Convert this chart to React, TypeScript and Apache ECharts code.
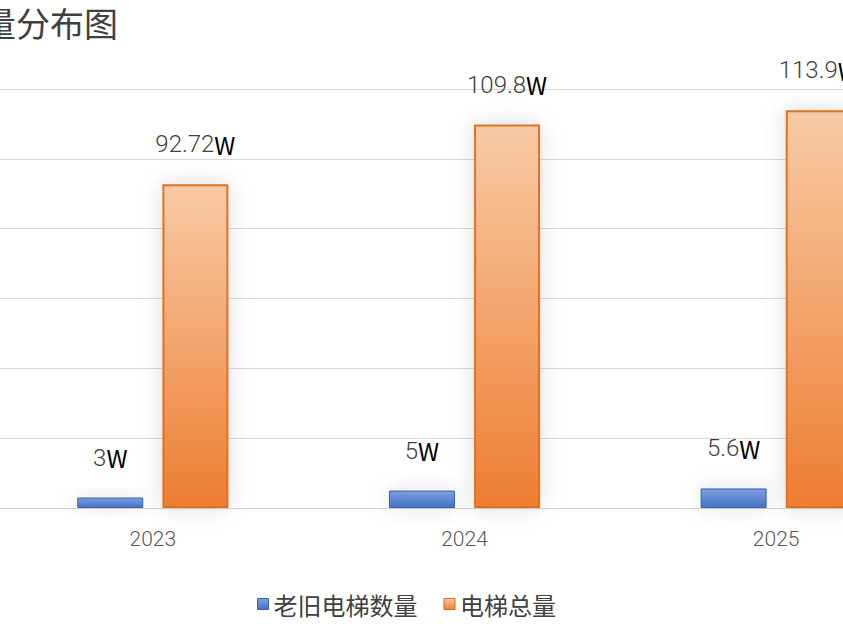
import React, { useEffect, useRef } from "react";
import * as echarts from "echarts";

const categories = ["2023", "2024", "2025"];
const oldElevators = [3, 5, 5.6];
const totalElevators = [92.72, 109.8, 113.9];
const oldLabels = ["3", "5", "5.6"];
const totalLabels = ["92.72", "109.8", "113.9"];
const seriesNames = ["老旧电梯数量", "电梯总量"];
const titleText = "量分布图";

const FONT = "'Noto Sans CJK SC', 'Noto Sans', sans-serif";
const LIGHT = "Roboto, 'Noto Sans', sans-serif";

export default function App() {
  const ref = useRef<HTMLDivElement>(null);
  useEffect(() => {
    if (!ref.current) return;
    const chart = echarts.init(ref.current, undefined, { renderer: "svg" });
    const labelRich = {
      n: { fontSize: 24, color: "#404040", fontFamily: LIGHT, fontWeight: 300 },
      w: { fontSize: 24, color: "#000000", fontFamily: FONT, fontWeight: 400 },
    };
    const orangeGrad = new echarts.graphic.LinearGradient(0, 0, 0, 1, [
      { offset: 0, color: "#F8CBA6" },
      { offset: 1, color: "#ED7D31" },
    ]);
    const blueGrad = new echarts.graphic.LinearGradient(0, 0, 0, 1, [
      { offset: 0, color: "#7E9FE0" },
      { offset: 1, color: "#4472C4" },
    ]);
    chart.setOption({
      animation: false,
      textStyle: { fontFamily: FONT },
      graphic: [
        {
          type: "text",
          left: -15,
          top: 5,
          style: { text: titleText, fontSize: 34, fill: "#404040", fontFamily: FONT },
        },
      ],
      legend: {
        left: 255,
        top: 587,
        itemWidth: 11,
        itemHeight: 11,
        itemGap: 26,
        icon: "rect",
        textStyle: { fontSize: 24, color: "#404040", fontFamily: FONT },
        data: [
          { name: seriesNames[0], itemStyle: { color: blueGrad, borderColor: "#3A62AC", borderWidth: 1 } },
          { name: seriesNames[1], itemStyle: { color: orangeGrad, borderColor: "#D96A20", borderWidth: 1 } },
        ],
      },
      grid: { left: 0, right: 0, top: 89, bottom: 124 },
      xAxis: {
        type: "category",
        data: categories,
        axisTick: { show: false },
        axisLine: { lineStyle: { color: "#D0D0D0", width: 1 } },
        axisLabel: { fontSize: 21, color: "#595959", margin: 20, fontFamily: LIGHT, fontWeight: 300 },
      },
      yAxis: {
        type: "value",
        min: 0,
        max: 120,
        interval: 20,
        axisLabel: { show: false },
        axisLine: { show: false },
        axisTick: { show: false },
        splitLine: { lineStyle: { color: "#D9D9D9", width: 1 } },
      },
      series: [
        {
          name: seriesNames[0],
          type: "bar",
          data: oldElevators,
          barWidth: 66,
          barGap: "29%",
          itemStyle: {
            color: blueGrad,
            borderColor: "#3A62AC",
            borderWidth: 1,
            shadowBlur: 22,
            shadowColor: "rgba(0,0,0,0.12)",
          },
          label: {
            show: true,
            position: "top",
            distance: 28,
            formatter: (p: any) => `{n|${oldLabels[p.dataIndex]}}{w|W}`,
            rich: labelRich,
          },
        },
        {
          name: seriesNames[1],
          type: "bar",
          data: totalElevators,
          barWidth: 66,
          itemStyle: {
            color: orangeGrad,
            borderColor: "#E27024",
            borderWidth: 2,
            shadowBlur: 22,
            shadowColor: "rgba(0,0,0,0.14)",
          },
          label: {
            show: true,
            position: "top",
            distance: 28,
            formatter: (p: any) => `{n|${totalLabels[p.dataIndex]}}{w|W}`,
            rich: labelRich,
          },
        },
      ],
    });
    return () => chart.dispose();
  }, []);
  return (
    <div style={{ position: "fixed", left: 0, top: 0, width: 843, height: 632, overflow: "hidden", background: "#ffffff" }}>
      <div ref={ref} style={{ position: "absolute", left: -3, top: 0, width: 935, height: 632 }} />
    </div>
  );
}
